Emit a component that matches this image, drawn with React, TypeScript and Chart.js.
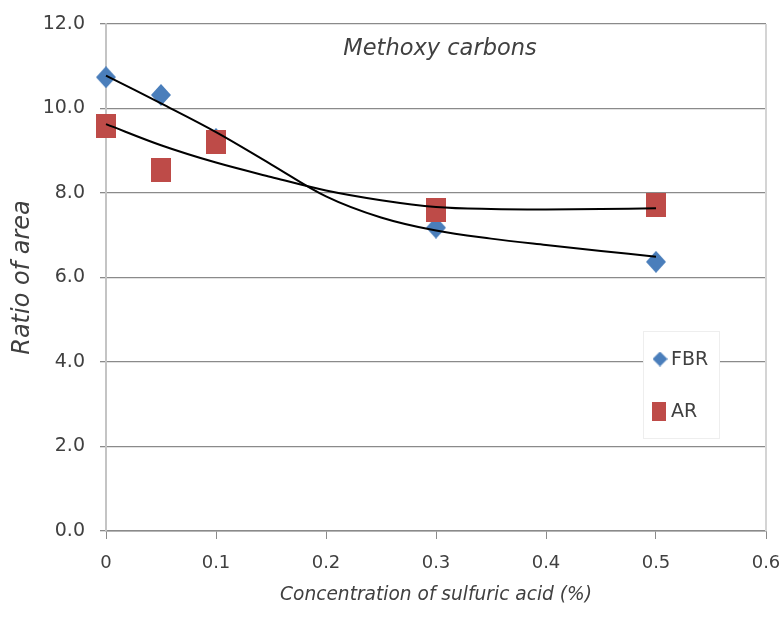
import React, { useEffect, useRef } from 'react';
import { Chart, registerables } from 'chart.js';

Chart.register(...registerables);

// ---- data ----
const xValues = [0, 0.05, 0.1, 0.3, 0.5];
const fbrValues = [10.74, 10.32, 9.28, 7.18, 6.37];
const arValues = [9.59, 8.54, 9.21, 7.6, 7.71];

const trendX = [0, 0.05, 0.1, 0.15, 0.2, 0.25, 0.3, 0.35, 0.4, 0.45, 0.5];
const fbrTrend = [10.78, 10.12, 9.44, 8.68, 7.92, 7.42, 7.11, 6.92, 6.77, 6.63, 6.49];
const arTrend = [9.63, 9.13, 8.72, 8.38, 8.06, 7.83, 7.67, 7.62, 7.61, 7.62, 7.64];

const seriesNames = ['FBR', 'AR'];
const chartTitle = 'Methoxy carbons';
const xTitle = 'Concentration of sulfuric acid (%)';
const yTitle = 'Ratio of area';

const FONT = '"DejaVu Sans", sans-serif';
const TEXT = '#404040';
const BLUE = '#4A7EBB';
const RED = '#BE4B48';
const GRID = '#8A8A8A';

function makeMarker(kind: 'diamond' | 'square', w: number, h: number, color: string) {
  const c = document.createElement('canvas');
  c.width = w;
  c.height = h;
  const ctx = c.getContext('2d')!;
  ctx.fillStyle = color;
  if (kind === 'diamond') {
    ctx.beginPath();
    ctx.moveTo(w / 2, 0);
    ctx.lineTo(w, h / 2);
    ctx.lineTo(w / 2, h);
    ctx.lineTo(0, h / 2);
    ctx.closePath();
    ctx.fill();
  } else {
    ctx.fillRect(0, 0, w, h);
  }
  return c;
}

const overlayPlugin = {
  id: 'overlay',
  afterDraw(chart: any) {
    const { ctx, chartArea } = chart;
    ctx.save();
    // right border of plot area
    ctx.strokeStyle = '#D4D4D4';
    ctx.lineWidth = 2;
    ctx.beginPath();
    ctx.moveTo(chartArea.right, chartArea.top);
    ctx.lineTo(chartArea.right, chartArea.bottom);
    ctx.stroke();

    // title inside plot area
    ctx.fillStyle = TEXT;
    ctx.font = `italic 22.5px ${FONT}`;
    ctx.textAlign = 'center';
    ctx.textBaseline = 'alphabetic';
    ctx.fillText(chartTitle, (chartArea.left + chartArea.right) / 2 + 4, chartArea.top + 31);

    // legend box
    const bx = chartArea.right - 123;
    const by = chartArea.top + 307;
    const bw = 76;
    const bh = 107;
    ctx.fillStyle = '#FFFFFF';
    ctx.fillRect(bx, by, bw, bh);
    ctx.strokeStyle = '#EEEEEE';
    ctx.lineWidth = 1;
    ctx.strokeRect(bx + 0.5, by + 0.5, bw, bh);

    const d = makeMarker('diamond', 15, 15, BLUE);
    ctx.drawImage(d, bx + 17 - 7.5, by + 28 - 7.5);
    const s = makeMarker('square', 14, 19, RED);
    ctx.drawImage(s, bx + 9, by + 71);

    ctx.fillStyle = TEXT;
    ctx.font = `19px ${FONT}`;
    ctx.textAlign = 'left';
    ctx.textBaseline = 'middle';
    ctx.fillText(seriesNames[0], bx + 28, by + 29);
    ctx.fillText(seriesNames[1], bx + 28, by + 81);
    ctx.restore();
  },
};

export default function App() {
  const ref = useRef<HTMLCanvasElement>(null);

  useEffect(() => {
    if (!ref.current) return;
    const diamond = makeMarker('diamond', 20, 22, BLUE);
    const square = makeMarker('square', 20, 24, RED);

    const chart = new Chart(ref.current, {
      type: 'scatter',
      data: {
        datasets: [
          {
            label: seriesNames[0] + ' trend',
            data: trendX.map((x, i) => ({ x, y: fbrTrend[i] })),
            showLine: true,
            borderColor: '#000000',
            borderWidth: 2,
            pointRadius: 0,
            tension: 0.35,
            clip: false,
            order: 0,
          } as any,
          {
            label: seriesNames[1] + ' trend',
            data: trendX.map((x, i) => ({ x, y: arTrend[i] })),
            showLine: true,
            borderColor: '#000000',
            borderWidth: 2,
            pointRadius: 0,
            tension: 0.35,
            clip: false,
            order: 0,
          } as any,
          {
            label: seriesNames[1],
            data: xValues.map((x, i) => ({ x, y: arValues[i] })),
            pointStyle: square as any,
            pointRadius: 10,
            clip: false,
            order: 1,
          } as any,
          {
            label: seriesNames[0],
            data: xValues.map((x, i) => ({ x, y: fbrValues[i] })),
            pointStyle: diamond as any,
            pointRadius: 10,
            clip: false,
            order: 2,
          } as any,
        ],
      },
      options: {
        animation: false,
        responsive: false,
        layout: { padding: { top: 24, right: 17, left: 0, bottom: 0 } },
        plugins: {
          legend: { display: false },
          tooltip: { enabled: false },
          title: { display: false },
        },
        scales: {
          x: {
            type: 'linear',
            min: 0,
            max: 0.6,
            afterFit: (s: any) => {
              s.height = 86;
              s.paddingLeft = 0;
              s.paddingRight = 0;
            },
            ticks: {
              stepSize: 0.1,
              color: TEXT,
              font: { family: FONT, size: 18 },
              padding: 14,
              maxRotation: 0,
              callback: (v: any) => (Number(v) === 0 ? '0' : Number(v).toFixed(1)),
            },
            grid: {
              drawOnChartArea: false,
              drawTicks: true,
              tickLength: 8,
              color: GRID,
            },
            border: { display: true, color: GRID, width: 1.5 },
            title: {
              display: true,
              text: xTitle,
              color: TEXT,
              font: { family: FONT, size: 18.6, style: 'italic' },
              padding: { top: 0, bottom: 11 },
            },
          },
          y: {
            min: 0,
            max: 12,
            afterFit: (s: any) => {
              s.width = 106;
              s.paddingTop = 0;
              s.paddingBottom = 0;
            },
            ticks: {
              stepSize: 2,
              color: TEXT,
              font: { family: FONT, size: 19 },
              padding: 15,
              callback: (v: any) => Number(v).toFixed(1),
            },
            grid: {
              color: GRID,
              lineWidth: 1.3,
              tickLength: 6,
            },
            border: { display: true, color: '#C4C4C4', width: 2 },
            title: {
              display: true,
              text: yTitle,
              color: TEXT,
              font: { family: FONT, size: 24, style: 'italic' },
              padding: { top: 8, bottom: 0 },
            },
          },
        },
      },
      plugins: [overlayPlugin],
    });
    return () => chart.destroy();
  }, []);

  return (
    <div style={{ position: 'absolute', left: 0, top: 0, width: 783, height: 617, background: '#fff' }}>
      <canvas ref={ref} width={783} height={617} style={{ width: 783, height: 617, display: 'block' }} />
    </div>
  );
}
